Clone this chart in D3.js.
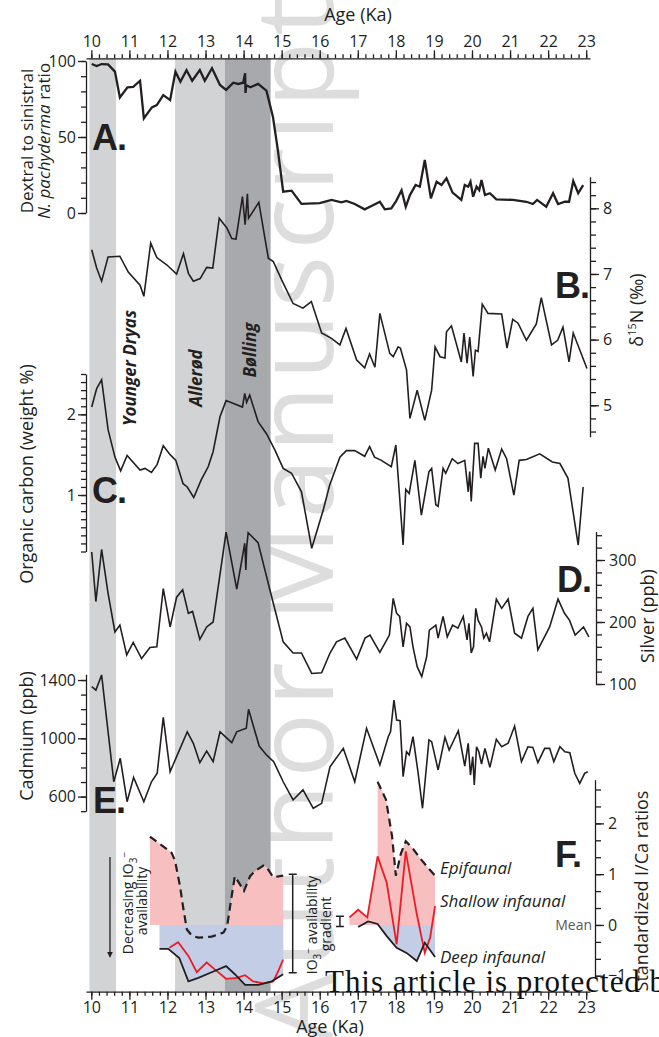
<!DOCTYPE html>
<html>
<head>
<meta charset="utf-8">
<script src="https://cdn.jsdelivr.net/npm/d3@7"></script>
<style>
body { margin: 0; background: #fff; }
svg { display: block; }
</style>
</head>
<body>
<div id="chart"></div>
<script>
// age axis ticks
const ageMajor = d3.range(10, 24);
const ageMinor = d3.range(0, 66).map(i => 10 + i * 0.2);

// climate intervals
const bandNames = ['Younger Dryas', 'Allerød', 'Bølling'];
const bandStart = [9.95, 12.2, 13.51];
const bandEnd = [10.65, 13.51, 14.71];

// y ticks per panel
const dextralTicks = d3.range(0, 101, 10);
const dextralLabels = [0, 50, 100];
const nitrogenTicks = d3.range(0, 20).map(i => 4.6 + i * 0.2);
const nitrogenLabels = [5, 6, 7, 8];
const carbonTicks = d3.range(0, 23).map(i => 0.3 + i * 0.1);
const carbonLabels = [1, 2];
const silverTicks = d3.range(100, 341, 20);
const silverLabels = [100, 200, 300];
const cadmiumTicks = d3.range(500, 1401, 100);
const cadmiumLabels = [600, 1000, 1400];
const iodineTicks = d3.range(0, 12).map(i => -1 + i / 3);
const iodineLabels = [-1, 0, 1, 2];

// A. dextral / sinistral N. pachyderma (age ka, ratio)
const dextralRatio = [[10.01,98],[10.14,96.7],[10.27,98],[10.44,97.8],[10.62,93],[10.75,76],[10.95,82.7],[11.1,83],[11.28,87],[11.38,62.3],[11.59,69.5],[11.72,71],[11.89,77.6],[12.07,74.3],[12.21,93],[12.34,86.4],[12.5,94],[12.65,87],[12.85,94],[12.98,87],[13.17,95.2],[13.38,84.2],[13.54,81],[13.73,85.7],[13.86,84.9],[13.99,85.7],[14.04,92],[14.05,79],[14.07,84],[14.18,82.7],[14.38,84.9],[14.6,80.5],[14.77,63.4],[14.9,41.4],[15.04,14],[15.26,14.7],[15.52,6],[16.0,6.5],[16.31,8.6],[16.57,7],[16.7,7.9],[16.92,5.9],[17.18,2.4],[17.36,4.6],[17.58,7.4],[17.71,2.4],[17.88,3],[18.01,8],[18.15,15],[18.26,4.1],[18.37,11.8],[18.52,18.4],[18.63,17.3],[18.76,34.9],[18.92,9.6],[19.07,20.6],[19.2,18.4],[19.33,22.8],[19.49,13.4],[19.72,8.6],[19.81,18.4],[19.9,17.3],[19.96,20.6],[20.03,10.7],[20.12,17.3],[20.19,15.1],[20.25,21.7],[20.34,11.8],[20.47,13],[20.64,9],[21.08,8.6],[21.43,7.4],[21.6,5.9],[21.71,8.6],[21.95,4.1],[22.13,13],[22.26,5.9],[22.44,7.4],[22.55,7.4],[22.66,21],[22.79,13],[22.92,18.4]];

// B. d15N (permil)
const nitrogen = [[10.01,7.37],[10.14,7.09],[10.27,6.89],[10.44,7.26],[10.75,7.27],[10.97,7.03],[11.28,6.83],[11.38,6.66],[11.56,7.47],[11.72,7.25],[11.98,7.14],[12.24,7.0],[12.42,7.31],[12.55,7.01],[12.68,6.89],[12.86,6.93],[13.03,7.1],[13.19,7.09],[13.36,7.85],[13.56,7.7],[13.69,7.54],[13.8,7.53],[13.97,8.18],[14.04,7.75],[14.1,8.22],[14.13,7.85],[14.21,7.92],[14.4,8.09],[14.65,7.24],[14.78,7.19],[15.0,6.91],[15.3,6.55],[15.56,6.48],[15.78,6.58],[16.05,6.1],[16.31,6.02],[16.53,5.92],[16.69,6.17],[16.97,5.69],[17.18,5.57],[17.31,5.78],[17.45,5.58],[17.58,6.4],[17.84,5.79],[17.93,5.74],[18.06,5.89],[18.12,5.87],[18.28,5.54],[18.37,4.8],[18.56,5.23],[18.76,4.77],[18.94,5.23],[19.03,5.89],[19.16,5.74],[19.29,5.72],[19.33,6.12],[19.46,6.21],[19.72,5.66],[19.79,6.1],[19.87,5.64],[19.94,6.04],[20.03,5.44],[20.09,5.84],[20.16,5.82],[20.27,6.54],[20.42,6.4],[20.78,6.39],[20.92,5.87],[21.07,6.31],[21.21,6.25],[21.43,5.99],[21.69,6.24],[21.82,6.64],[22.09,5.92],[22.25,5.99],[22.39,6.19],[22.55,5.66],[22.66,6.1],[23.02,5.56]];

// C. organic carbon (weight %)
const organicCarbon = [[10.01,2.09],[10.14,2.32],[10.27,2.43],[10.44,1.81],[10.62,1.47],[10.77,1.3],[10.94,1.49],[11.28,1.31],[11.41,1.33],[11.58,1.28],[11.73,1.38],[11.89,1.61],[12.07,1.5],[12.22,1.43],[12.41,1.14],[12.52,1.1],[12.69,0.97],[12.89,1.19],[13.07,1.35],[13.2,1.54],[13.38,1.97],[13.54,2.17],[13.97,2.09],[14.03,2.26],[14.08,2.15],[14.16,2.24],[14.38,1.91],[14.6,1.76],[14.82,1.56],[15.04,1.33],[15.26,1.27],[15.52,1.04],[15.79,0.34],[16.09,0.81],[16.26,1.12],[16.53,1.47],[16.7,1.55],[16.92,1.55],[17.18,1.48],[17.31,1.6],[17.44,1.47],[17.62,1.43],[17.88,1.35],[18.0,1.62],[18.19,0.38],[18.26,1.07],[18.35,1.02],[18.5,1.43],[18.67,0.75],[18.87,1.29],[18.94,1.33],[19.05,0.88],[19.11,0.86],[19.24,1.33],[19.31,1.27],[19.48,1.45],[19.63,1.39],[19.81,1.43],[19.9,1.04],[19.94,1.29],[19.98,0.92],[20.07,1.64],[20.16,1.64],[20.23,1.21],[20.29,1.48],[20.34,1.33],[20.43,1.58],[20.61,1.31],[20.78,1.57],[20.91,1.45],[21.1,1.0],[21.24,1.43],[21.43,1.44],[21.78,1.51],[22.11,1.41],[22.31,1.39],[22.52,1.21],[22.79,0.38],[22.92,1.1]];

// D. silver (ppb)
const silver = [[10.01,313],[10.12,233],[10.27,317],[10.44,246],[10.62,184],[10.75,195],[10.93,147],[11.1,167],[11.32,141],[11.54,159],[11.72,160],[11.89,254],[12.07,192],[12.24,240],[12.4,252],[12.55,214],[12.66,217],[12.85,172],[13.03,192],[13.2,200],[13.54,345],[13.82,253],[14.03,327],[14.06,284],[14.08,320],[14.12,344],[14.38,328],[14.69,252],[15.04,168],[15.3,150],[15.52,150],[15.79,117],[16.05,118],[16.27,150],[16.44,168],[16.66,174],[16.97,140],[17.19,174],[17.32,179],[17.58,151],[17.83,179],[17.93,238],[18.02,214],[18.1,209],[18.19,160],[18.28,198],[18.37,192],[18.45,160],[18.56,128],[18.68,112],[18.81,144],[18.88,187],[19.05,195],[19.11,174],[19.24,209],[19.35,176],[19.49,195],[19.63,190],[19.77,209],[19.87,171],[19.92,198],[19.98,150],[20.04,160],[20.1,222],[20.16,203],[20.25,192],[20.31,174],[20.38,182],[20.46,168],[20.64,237],[20.78,222],[20.95,237],[21.12,182],[21.3,174],[21.47,209],[21.6,222],[21.73,155],[22.04,192],[22.26,237],[22.43,214],[22.56,203],[22.71,179],[22.93,192],[23.07,176]];

// E. cadmium (ppb)
const cadmium = [[10.01,1354],[10.12,1331],[10.27,1435],[10.59,702],[10.76,863],[10.94,565],[11.11,732],[11.38,565],[11.58,702],[11.73,760],[11.89,1144],[12.07,771],[12.24,874],[12.52,1045],[12.68,966],[12.85,833],[13.03,913],[13.2,840],[13.38,1045],[13.54,1007],[13.69,970],[13.82,1045],[14.07,1069],[14.13,1199],[14.41,947],[14.6,886],[14.79,840],[15.04,702],[15.3,577],[15.56,646],[15.83,520],[16.05,554],[16.27,805],[16.62,931],[16.92,702],[17.23,1069],[17.58,817],[17.8,1011],[17.86,1045],[17.95,1263],[18.02,1126],[18.11,1121],[18.19,737],[18.28,908],[18.35,886],[18.45,1011],[18.58,771],[18.7,520],[18.87,989],[18.94,977],[19.11,783],[19.29,1007],[19.4,920],[19.64,1052],[19.81,810],[19.9,966],[19.96,748],[20.02,874],[20.06,680],[20.12,942],[20.18,908],[20.25,824],[20.34,931],[20.47,801],[20.64,993],[20.78,942],[20.95,966],[21.12,1084],[21.3,840],[21.47,942],[21.6,938],[21.73,833],[21.91,931],[22.04,931],[22.15,840],[22.31,942],[22.44,908],[22.57,901],[22.7,760],[22.83,691],[22.96,760],[23.04,771]];

// F. standardized I/Ca ratios
const epifaunalEarly = [[11.54,1.74],[11.94,1.52],[12.11,1.42],[12.2,1.26],[12.33,0.76],[12.42,0.31],[12.51,-0.09],[12.64,-0.21],[12.81,-0.25],[13.16,-0.23],[13.47,-0.15],[13.57,-0.02],[13.66,0.44],[13.77,0.96],[14.01,0.67],[14.17,0.96],[14.3,1.06],[14.52,1.17],[14.61,1.13],[14.78,0.94],[15.04,0.97]];
const shallowEarly = [[12.05,-0.45],[12.28,-0.34],[12.55,-0.61],[12.77,-0.93],[13.03,-0.74],[13.25,-0.88],[13.54,-1.06],[13.82,-1.04],[14.04,-0.99],[14.25,-1.11],[14.52,-1.15],[14.78,-1.11],[14.91,-0.91],[15.04,-0.68]];
const deepEarly = [[11.79,-0.47],[12.02,-0.47],[12.31,-0.65],[12.55,-1.11],[12.81,-1.04],[13.16,-0.93],[13.54,-0.81],[13.77,-0.97],[14.04,-1.18],[14.39,-1.18],[14.74,-1.11],[15.04,-0.97]];
const epifaunalLate = [[17.52,2.82],[17.74,2.47],[17.9,1.75],[18.0,0.97],[18.13,1.4],[18.26,1.65],[18.45,1.5],[18.63,1.32],[18.85,1.12],[19.03,0.97]];
const shallowLate = [[16.78,0.15],[17.01,0.3],[17.25,0.15],[17.52,1.35],[17.76,0.83],[18.02,-0.38],[18.26,1.45],[18.55,0.21],[18.76,-0.55],[18.9,-0.25],[19.03,0.37]];
const deepLate = [[17.01,-0.04],[17.27,0.07],[17.52,0.02],[17.76,-0.22],[18.02,-0.45],[18.28,-0.55],[18.55,-0.71],[18.76,-0.35],[19.03,-0.63]];

const ink = '#231f20';
const font = '"Open Sans", "DejaVu Sans", sans-serif';

const svg = d3.select('#chart').append('svg')
	.attr('width', 659)
	.attr('height', 1037)
	.attr('font-family', font);

const x = d3.scaleLinear().domain([9.86, 23.1]).range([86, 590]);
const yA = d3.scaleLinear().domain([0, 100]).range([213, 61]);
const yB = d3.scaleLinear().domain([4.52, 8.48]).range([436.8, 176.8]);
const yC = d3.scaleLinear().domain([0.3, 2.5]).range([551.5, 374]);
const yD = d3.scaleLinear().domain([100, 346]).range([684, 531.5]);
const yE = d3.scaleLinear().domain([500, 1440]).range([811.2, 674.2]);
const yF = d3.scaleLinear().domain([-1.05, 2.86]).range([978.3, 779.7]);

const topY = 58.3, bottomY = 991.7;

// watermark, sits under the shading
svg.append('text')
	.attr('transform', 'translate(333,-3) rotate(-90)')
	.attr('text-anchor', 'end')
	.attr('font-size', 108)
	.attr('fill', '#dddddd')
	.attr('textLength', 1045)
	.attr('lengthAdjust', 'spacing')
	.text('Author Manuscript');

// shaded intervals
svg.selectAll('rect.band')
	.data(bandNames)
	.enter()
	.append('rect')
	.attr('class', 'band')
	.attr('x', (d, i) => x(bandStart[i]))
	.attr('width', (d, i) => x(bandEnd[i]) - x(bandStart[i]))
	.attr('y', topY)
	.attr('height', bottomY - topY)
	.attr('fill', (d, i) => i == 2 ? '#a7a9ac' : '#d1d3d4');

function vtext(xb, yc, size) {
	return svg.append('text')
		.attr('transform', `translate(${xb},${yc}) rotate(-90)`)
		.attr('text-anchor', 'middle')
		.attr('font-size', size)
		.attr('fill', ink);
}

// interval labels
const bandLabelPos = [[136, 368], [202, 378], [256, 350]];
bandNames.forEach((name, i) => {
	vtext(bandLabelPos[i][0], bandLabelPos[i][1], 17)
		.attr('font-weight', 'bold')
		.attr('font-style', 'italic')
		.text(name);
});

// F. shaded areas
const zeroY = yF(0);
const defs = svg.append('defs');
defs.append('clipPath').attr('id', 'above').append('rect')
	.attr('x', 0).attr('y', 0).attr('width', 659).attr('height', zeroY);
defs.append('clipPath').attr('id', 'below').append('rect')
	.attr('x', 0).attr('y', zeroY).attr('width', 659).attr('height', 1037 - zeroY);

const areaF = d3.area().x(d => x(d[0])).y0(zeroY).y1(d => yF(d[1]));
const pinkG = svg.append('g').attr('clip-path', 'url(#above)');
[epifaunalEarly, shallowEarly, epifaunalLate, shallowLate].forEach(s => {
	pinkG.append('path').attr('d', areaF(s)).attr('fill', '#f8bfc0');
});
const blueG = svg.append('g').attr('clip-path', 'url(#below)');
[deepEarly, shallowEarly, deepLate, shallowLate].forEach(s => {
	blueG.append('path').attr('d', areaF(s)).attr('fill', '#c3cde6');
});

// axes
function styleAxis(g) {
	g.selectAll('line, path').attr('stroke', ink).attr('stroke-width', 1.3);
	g.selectAll('text').attr('fill', ink);
}

function axisPair(make, scale, transform, minorVals, majorVals, minorLen, majorLen, pad) {
	const g = svg.append('g').attr('transform', transform);
	g.append('g').call(make(scale).tickValues(minorVals).tickSize(minorLen).tickSizeOuter(0).tickFormat(''));
	const gm = g.append('g').call(make(scale).tickValues(majorVals).tickSize(majorLen).tickSizeOuter(0).tickPadding(pad).tickFormat(d3.format('d')));
	gm.select('.domain').remove();
	styleAxis(g);
	g.selectAll('g').attr('font-size', 16).attr('font-family', font);
	return g;
}

axisPair(d3.axisTop, x, `translate(0,${topY})`, ageMinor, ageMajor, 4, 8, 3);
axisPair(d3.axisBottom, x, `translate(0,${bottomY})`, ageMinor, ageMajor, 4, 8, 2);

axisPair(d3.axisLeft, yA, 'translate(86,0)', dextralTicks, dextralLabels, 5, 8, 2);
axisPair(d3.axisRight, yB, 'translate(590,0)', nitrogenTicks, nitrogenLabels, 6, 9, 4);
axisPair(d3.axisLeft, yC, 'translate(86,0)', carbonTicks, carbonLabels, 5, 8, 2);
axisPair(d3.axisRight, yD, 'translate(596,0)', silverTicks, silverLabels, 6, 9, 4);
axisPair(d3.axisLeft, yE, 'translate(86,0)', cadmiumTicks, cadmiumLabels, 5, 8, 2);
axisPair(d3.axisRight, yF, 'translate(595,0)', iodineTicks, iodineLabels, 6, 9, 4);

// age titles
svg.append('text').attr('x', 358).attr('y', 21).attr('text-anchor', 'middle')
	.attr('font-size', 18).attr('fill', ink).text('Age (Ka)');
svg.append('text').attr('x', 330).attr('y', 1033).attr('text-anchor', 'middle')
	.attr('font-size', 18).attr('fill', ink).text('Age (Ka)');

// y titles
vtext(33, 141, 17).text('Dextral to sinistral');
const t2 = vtext(50, 141, 17);
t2.append('tspan').attr('font-style', 'italic').text('N. pachyderma');
t2.append('tspan').text(' ratio');
const tb = vtext(643, 310, 18);
tb.append('tspan').text('δ');
tb.append('tspan').attr('font-size', 11).attr('dy', -7).text('15');
tb.append('tspan').attr('dy', 7).text('N (‰)');
vtext(33, 474, 18).text('Organic carbon (weight %)');
vtext(654, 616, 18).text('Silver (ppb)');
vtext(33, 736, 18).text('Cadmium (ppb)');
vtext(648, 891, 18).text('Standardized I/Ca ratios');

// series lines
const line = (ys) => d3.line().x(d => x(d[0])).y(d => ys(d[1]));
const series = [
	{ data: dextralRatio, y: yA, w: 2.3 },
	{ data: nitrogen, y: yB, w: 1.6 },
	{ data: organicCarbon, y: yC, w: 1.6 },
	{ data: silver, y: yD, w: 1.6 },
	{ data: cadmium, y: yE, w: 1.6 }
];
series.forEach(s => {
	svg.append('path')
		.attr('d', line(s.y)(s.data))
		.attr('fill', 'none')
		.attr('stroke', ink)
		.attr('stroke-width', s.w);
});

const lineF = line(yF);
[shallowEarly, shallowLate].forEach(s => {
	svg.append('path').attr('d', lineF(s)).attr('fill', 'none')
		.attr('stroke', '#ed1c24').attr('stroke-width', 1.8);
});
[deepEarly, deepLate].forEach(s => {
	svg.append('path').attr('d', lineF(s)).attr('fill', 'none')
		.attr('stroke', ink).attr('stroke-width', 1.8);
});
[epifaunalEarly, epifaunalLate].forEach(s => {
	svg.append('path').attr('d', lineF(s)).attr('fill', 'none')
		.attr('stroke', ink).attr('stroke-width', 2.2).attr('stroke-dasharray', '8,5');
});

// panel letters
const letterPos = [['A.', 92, 150], ['B.', 555, 298], ['C.', 92, 503], ['D.', 557, 592], ['E.', 93, 813], ['F.', 555, 867]];
letterPos.forEach(p => {
	svg.append('text').attr('x', p[1]).attr('y', p[2])
		.attr('font-family', '"Liberation Sans", Arial, sans-serif')
		.attr('font-weight', 'bold').attr('font-size', 36)
		.attr('letter-spacing', -1)
		.attr('fill', ink).text(p[0]);
});

// F. annotations
const seriesLabels = [['Epifaunal', 1.0], ['Shallow infaunal', 0.36], ['Deep infaunal', -0.75]];
seriesLabels.forEach(l => {
	svg.append('text').attr('x', 440).attr('y', yF(l[1]))
		.attr('font-size', 17).attr('font-style', 'italic').attr('fill', ink).text(l[0]);
});
svg.append('text').attr('x', 592).attr('y', zeroY + 5).attr('text-anchor', 'end')
	.attr('font-size', 14).attr('fill', '#58595b').text('Mean');

// down arrow
defs.append('marker').attr('id', 'arrow').attr('viewBox', '0 0 10 10')
	.attr('refX', 8).attr('refY', 5).attr('markerWidth', 6).attr('markerHeight', 8)
	.attr('orient', 'auto').attr('markerUnits', 'userSpaceOnUse')
	.append('path').attr('d', 'M0,0 L10,5 L0,10 z').attr('fill', ink);
svg.append('line')
	.attr('x1', x(10.49)).attr('x2', x(10.49))
	.attr('y1', yF(1.34)).attr('y2', yF(-0.62))
	.attr('stroke', ink).attr('stroke-width', 1.3)
	.attr('marker-end', 'url(#arrow)');

function ioText(xb, yc, before, after) {
	const t = vtext(xb, yc, 14);
	t.append('tspan').text(before + 'IO');
	t.append('tspan').attr('font-size', 10).attr('dy', 4).text('3');
	t.append('tspan').attr('font-size', 10).attr('dy', -9).text('−');
	t.append('tspan').attr('dy', 5).text(after);
	return t;
}
ioText(133, 903, 'Decreasing ', '');
vtext(147, 901, 14).text('availability');
ioText(317, 925, '', ' availability');
vtext(331, 924, 14).text('gradient');

// brackets
function bracket(age, top, bottom, cap) {
	const bx = x(age);
	svg.append('path')
		.attr('d', `M${bx - cap},${yF(top)}H${bx + cap}M${bx},${yF(top)}V${yF(bottom)}M${bx - cap},${yF(bottom)}H${bx + cap}`)
		.attr('stroke', ink).attr('stroke-width', 1.5).attr('fill', 'none');
}
bracket(15.29, 1.0, -0.94, 4);
bracket(16.53, 0.17, -0.03, 4);

// copyright overlay
svg.append('text')
	.attr('x', 325).attr('y', 992)
	.attr('font-family', '"Liberation Serif", "DejaVu Serif", serif')
	.attr('font-size', 31)
	.attr('textLength', 340)
	.attr('lengthAdjust', 'spacing')
	.attr('fill', '#111')
	.text('This article is protected b');
</script>
</body>
</html>
